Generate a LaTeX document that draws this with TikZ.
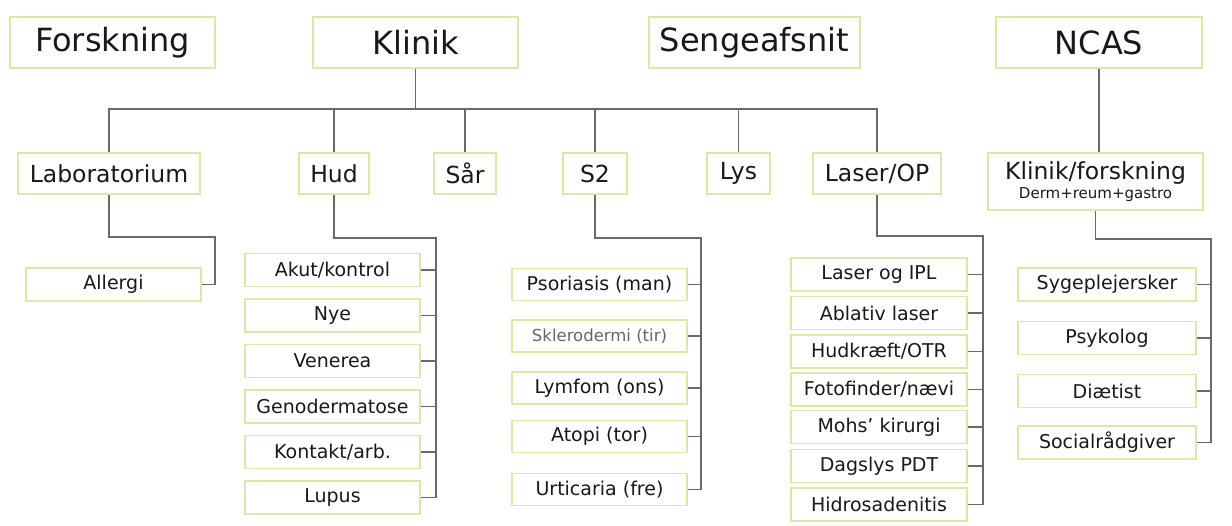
\documentclass[tikz,border=0pt]{standalone}
\usepackage{fontspec}
\setmainfont{DejaVu Sans}
\definecolor{boxc}{RGB}{228,228,170}
\definecolor{linec}{RGB}{105,105,105}
\definecolor{txt}{RGB}{25,25,25}
\tikzset{
  box/.style={draw=boxc, line width=1.4pt, fill=white, inner sep=0pt, text=txt, align=center},
  topbox/.style={box, minimum height=51pt, font=\fontsize{32}{36}\selectfont},
  midbox/.style={box, minimum height=41pt, font=\fontsize{23.5}{27}\selectfont},
  leaf/.style={box, minimum height=33pt, minimum width=175pt, font=\fontsize{19}{22}\selectfont},
  conn/.style={draw=linec, line width=1.5pt},
}
\begin{document}
\begin{tikzpicture}[x=1pt,y=-1pt]
\useasboundingbox (0,0) rectangle (1232,525);
% top row
\node[topbox, minimum width=205pt] (forsk) at (112.5,42.5) {Forskning};
\node[topbox, minimum width=205pt] (klinik) at (415.5,42.5) {Klinik};
\node[topbox, minimum width=211pt] (seng) at (754.5,42.5) {Sengeafsnit};
\node[topbox, minimum width=206pt] (ncas) at (1099,42.5) {NCAS};
% second row
\node[midbox, minimum width=182pt] (lab) at (109,173.5) {Laboratorium};
\node[midbox, minimum width=70pt] (hud) at (334,173.5) {Hud};
\node[midbox, minimum width=62pt] (sar) at (465,173.5) {Sår};
\node[midbox, minimum width=64pt] (s2) at (595,173.5) {S2};
\node[midbox, minimum width=63pt] (lys) at (738.5,173.5) {Lys};
\node[midbox, minimum width=128pt] (laser) at (877,173.5) {Laser/OP};
\node[box, minimum width=215pt, minimum height=57pt] (kf) at (1095.5,181.5)
  {{\fontsize{23.5}{27}\selectfont Klinik/forskning}\\[2pt]{\fontsize{15}{16}\selectfont Derm+reum+gastro}};
% Klinik bus
\coordinate (bus) at (0,109);
\draw[conn] (klinik.south) -- (klinik.south |- bus);
\draw[conn] (lab.north) |- (laser.north |- bus) -- (laser.north);
\foreach \n in {hud,sar,s2,lys} \draw[conn] (\n.north) -- (\n.north |- bus);
% NCAS
\draw[conn] (ncas.south) -- (ncas.south |- kf.north);
% Laboratorium -> Allergi
\node[leaf] (allergi) at (113.5,284.5) {Allergi};
\coordinate (labspine) at (215,237);
\draw[conn] (lab.south) |- (labspine) |- (allergi.east);
% Hud children
\node[leaf] (h1) at (332.5,270) {Akut/kontrol};
\node[leaf] (h2) at (332.5,315.5) {Nye};
\node[leaf] (h3) at (332.5,361) {Venerea};
\node[leaf] (h4) at (332.5,406.5) {Genodermatose};
\node[leaf] (h5) at (332.5,452) {Kontakt/arb.};
\node[leaf] (h6) at (332.5,497.5) {Lupus};
\coordinate (hudspine) at (436,238);
\draw[conn] (hud.south) |- (hudspine) |- (h6.east);
\foreach \n in {h1,h2,h3,h4,h5} \draw[conn] (\n.east) -- (\n.east -| hudspine);
% S2 children
\node[leaf, minimum height=32pt] (s21) at (599.5,284.5) {Psoriasis (man)};
\node[leaf, minimum height=32pt, text=gray!80!black, font=\fontsize{16.5}{19}\selectfont] (s22) at (599.5,336) {Sklerodermi (tir)};
\node[leaf, minimum height=32pt] (s23) at (599.5,388) {Lymfom (ons)};
\node[leaf, minimum height=32pt] (s24) at (599.5,436.5) {Atopi (tor)};
\node[leaf, minimum height=32pt] (s25) at (599.5,489.5) {Urticaria (fre)};
\coordinate (s2spine) at (701,238);
\draw[conn] (s2.south) |- (s2spine) |- (s25.east);
\foreach \n in {s21,s22,s23,s24} \draw[conn] (\n.east) -- (\n.east -| s2spine);
% Laser children
\node[leaf, minimum width=176pt] (l1) at (879,274.5) {Laser og IPL};
\node[leaf, minimum width=176pt] (l2) at (879,313) {Ablativ laser};
\node[leaf, minimum width=176pt] (l3) at (879,351.5) {Hudkræft/OTR};
\node[leaf, minimum width=176pt] (l4) at (879,389.5) {Fotofinder/nævi};
\node[leaf, minimum width=176pt] (l5) at (879,427) {Mohs’ kirurgi};
\node[leaf, minimum width=176pt] (l6) at (879,466) {Dagslys PDT};
\node[leaf, minimum width=176pt] (l7) at (879,504.5) {Hidrosadenitis};
\coordinate (lspine) at (983,236);
\draw[conn] (laser.south) |- (lspine) |- (l7.east);
\foreach \n in {l1,l2,l3,l4,l5,l6} \draw[conn] (\n.east) -- (\n.east -| lspine);
% Klinik/forskning children
\node[leaf, minimum width=178pt] (k1) at (1107,284.5) {Sygeplejersker};
\node[leaf, minimum width=178pt] (k2) at (1107,338) {Psykolog};
\node[leaf, minimum width=178pt] (k3) at (1107,391) {Diætist};
\node[leaf, minimum width=178pt] (k4) at (1107,442.5) {Socialrådgiver};
\coordinate (kspine) at (1211,239);
\draw[conn] (kf.south) |- (kspine) |- (k4.east);
\foreach \n in {k1,k2,k3} \draw[conn] (\n.east) -- (\n.east -| kspine);
\end{tikzpicture}
\end{document}
